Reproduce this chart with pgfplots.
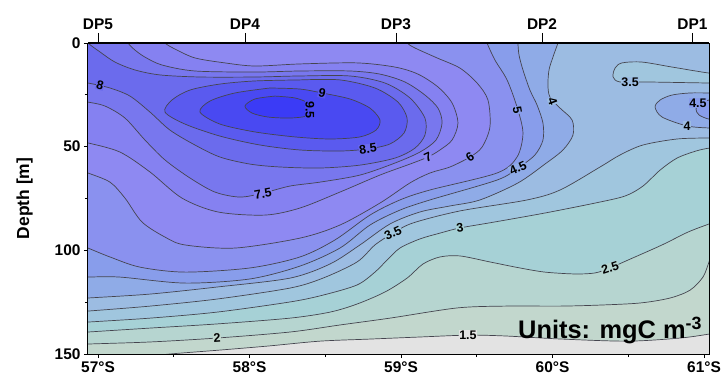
\documentclass[border=0pt]{standalone}
\usepackage{fontspec}
\setmainfont{Liberation Sans}
\usepackage{pgfplots}
\pgfplotsset{compat=1.18}
\definecolor{cg}{HTML}{E3E3E3}
\definecolor{c15}{HTML}{C2D7CD}
\definecolor{c2}{HTML}{B6D5D0}
\definecolor{c25}{HTML}{A6D1D6}
\definecolor{c3}{HTML}{A0C6DE}
\definecolor{c35}{HTML}{9CBCE2}
\definecolor{c4}{HTML}{8FABE7}
\definecolor{c45}{HTML}{889DEB}
\definecolor{c5}{HTML}{8A91EF}
\definecolor{c6}{HTML}{8E89F2}
\definecolor{c7}{HTML}{8581F1}
\definecolor{c75}{HTML}{7877EE}
\definecolor{c8}{HTML}{6B6BED}
\definecolor{c85}{HTML}{5A5AEF}
\definecolor{c9}{HTML}{4949F2}
\definecolor{c95}{HTML}{3B3BF6}
\definecolor{lc}{HTML}{45454F}
\pgfplotsset{cl/.style={smooth, tension=0.5, draw=lc, line width=0.7bp, fill=#1}}
\tikzset{lab/.style={font=\bfseries\fontsize{12.5}{12.5}\selectfont, inner sep=0.5bp, text=black}}
\begin{document}
\begin{tikzpicture}
\begin{axis}[name=main, scale only axis, width=621bp, height=311bp,
  xmin=56.934, xmax=61.033, ymin=0, ymax=150, y dir=reverse, enlargelimits=false,
  axis on top, clip bounding box=upper bound, no marks,
  axis background/.style={fill=cg},
  xtick={57,58,59,60,61}, xticklabels={57°S,58°S,59°S,60°S,61°S},
  ytick={0,50,100,150}, yticklabels={0,50,100,150},
  minor x tick num=1, minor y tick num=1,
  tick align=outside, xtick pos=left, ytick pos=left,
  major tick length=4bp, minor tick length=3bp,
  tick style={black, line width=0.8bp},
  axis line style={black, line width=1bp},
  tick label style={font=\bfseries\fontsize{15.5}{15.5}\selectfont},
  /pgf/number format/assume math mode=true,
  ylabel={Depth [m]},
  ylabel style={font=\bfseries\fontsize{17.5}{17.5}\selectfont, at={(axis description cs:-0.102,0.5)}, anchor=center},
]
% 1.5
\addplot[cl=c15] coordinates {(56.5,-25) (56.5,160) (56.9,156) (57.145,152.9) (57.310,151.4) (57.475,150.0) (57.805,148.1) (58.116,146.2) (58.465,143.8) (58.795,142.8) (59.125,141.8) (59.442,140.9) (59.686,141.3) (60.063,142.8) (60.498,143.8) (60.842,142.3) (61.033,140.4) (61.106,139.4) (61.238,138.9) (61.5,138) (61.5,-25) (56.5,-25)};
% 2
\addplot[cl=c2] coordinates {(56.5,-25) (56.6,146) (56.848,145.7) (56.934,145.2) (57.343,144.2) (57.785,142.3) (58.267,139.4) (58.597,136.0) (58.927,132.7) (59.369,127.8) (59.686,126.9) (60.050,126.9) (60.314,126.4) (60.578,125.4) (60.776,123.0) (60.908,119.2) (60.993,112.9) (61.033,105.6) (61.059,99.9) (61.092,94.1) (61.5,60) (61.5,-25) (56.5,-25)};
% 2.5
\addplot[cl=c25] coordinates {(56.5,-25) (56.6,140) (56.848,139.9) (56.934,139.4) (57.343,137.5) (57.785,135.5) (58.267,132.7) (58.531,129.8) (58.710,125.9) (58.894,120.1) (59.040,113.4) (59.145,106.6) (59.257,103.2) (59.389,102.7) (59.587,105.6) (59.785,108.5) (59.950,110.5) (60.149,111.4) (60.281,110.9) (60.380,108.5) (60.498,104.7) (60.723,97.4) (60.894,91.2) (61.033,87.3) (61.106,85.4) (61.3,80) (61.5,-25) (56.5,-25)};
% 3
\addplot[cl=c3] coordinates {(56.5,-25) (56.6,135.5) (56.848,135.1) (56.934,134.6) (57.343,132.7) (57.785,129.8) (58.267,124.9) (58.485,121.6) (58.710,116.7) (58.828,110.5) (58.908,104.7) (58.993,98.9) (59.125,94.5) (59.257,91.7) (59.389,89.2) (59.620,86.3) (59.950,82.0) (60.281,77.2) (60.479,73.8) (60.597,69.0) (60.710,61.3) (60.822,55.5) (60.947,52.1) (61.033,50.7) (61.106,50.2) (61.3,50) (61.5,-25) (56.5,-25)};
% 3.5
\addplot[cl=c35] coordinates {(56.5,-25) (56.6,130.3) (56.848,129.8) (56.934,129.3) (57.343,126.9) (57.785,123.5) (58.267,118.2) (58.485,113.4) (58.710,105.6) (58.828,97.4) (58.947,91.7) (59.079,86.8) (59.389,81.0) (59.832,75.7) (60.050,70.9) (60.314,59.8) (60.446,54.0) (60.597,49.2) (60.822,46.3) (61.033,45.8) (61.106,45.8) (61.3,45) (61.5,-25) (56.5,-25)};
% 3.5 loop (lower inside)
\addplot[cl=c3] coordinates {(61.3,14.5) (61.106,14.5) (61.033,14.5) (60.789,11.6) (60.591,9.2) (60.459,9.6) (60.413,12.1) (60.400,16.4) (60.446,18.8) (60.624,18.8) (61.033,19.3) (61.106,19.3) (61.3,19.3) (61.3,14.5)};
% 4 loop right
\addplot[cl=c4] coordinates {(61.3,24.1) (61.106,24.1) (61.033,24.1) (60.908,24.1) (60.789,25.1) (60.710,27.5) (60.677,30.9) (60.723,35.7) (60.888,40.0) (61.033,41.0) (61.106,41.0) (61.3,41) (61.3,24.1)};
% 4.5 loop right
\addplot[cl=c45] coordinates {(61.3,27.5) (61.106,27.5) (61.033,27.5) (60.980,28.9) (60.947,31.8) (60.967,34.7) (61.033,36.7) (61.106,36.7) (61.3,36.7) (61.3,27.5)};
% 4
\addplot[cl=c4] coordinates {(56.5,-25) (56.6,124) (56.848,123.5) (56.934,123.0) (57.343,121.1) (57.785,117.7) (58.267,113.4) (58.531,106.6) (58.729,97.4) (58.927,87.3) (59.125,81.5) (59.323,78.6) (59.521,75.7) (59.772,67.5) (59.950,58.4) (60.069,51.6) (60.135,44.4) (60.129,37.1) (60.050,31.4) (59.983,26.0) (59.970,20.3) (59.977,13.0) (60.003,6.8) (60.036,0) (60.056,-4.8) (60.069,-11.1) (56.5,-25)};
% 4.5
\addplot[cl=c45] coordinates {(56.5,-25) (56.6,113) (56.848,113.1) (56.934,112.9) (57.145,112.9) (57.574,115.8) (58.003,113.8) (58.333,107.6) (58.597,98.9) (58.795,87.8) (58.993,80.6) (59.191,75.7) (59.634,66.1) (59.772,60.3) (59.884,54.0) (59.937,46.8) (59.937,38.6) (59.898,29.9) (59.851,22.7) (59.805,13.0) (59.779,5.8) (59.772,0) (59.772,-4.8) (59.772,-11.1) (56.5,-25)};
% 5
\addplot[cl=c5] coordinates {(56.5,-25) (56.6,96) (56.868,97.0) (56.934,98.9) (57.079,103.2) (57.277,108.1) (57.574,110.5) (58.003,108.5) (58.333,103.2) (58.564,95.0) (58.795,83.0) (58.993,75.7) (59.191,70.9) (59.634,62.7) (59.766,55.0) (59.805,43.4) (59.766,30.9) (59.700,17.8) (59.620,8.2) (59.568,0) (59.548,-4.8) (59.521,-11.1) (56.5,-25)};
% 6
\addplot[cl=c6] coordinates {(56.5,-25) (56.6,60) (56.881,61.3) (56.934,62.7) (57.079,67.1) (57.178,74.8) (57.290,86.3) (57.442,93.6) (57.574,97.4) (57.904,98.9) (58.333,94.1) (58.597,87.8) (58.861,77.2) (59.059,67.5) (59.191,62.7) (59.323,59.8) (59.455,55.0) (59.535,50.2) (59.587,40.5) (59.574,27.5) (59.502,19.3) (59.389,12.1) (59.238,7.2) (59.092,2.4) (59.040,0) (59.007,-3.4) (58.960,-8.7) (56.5,-25)};
% 7
\addplot[cl=c7] coordinates {(56.5,-25) (56.6,47.5) (56.881,47.8) (56.934,48.2) (57.145,52.6) (57.343,62.2) (57.554,74.8) (57.792,81.5) (58.102,83.0) (58.333,79.6) (58.597,71.9) (58.861,63.7) (59.059,58.4) (59.178,55.0) (59.257,51.6) (59.337,46.8) (59.376,38.6) (59.337,28.9) (59.244,21.2) (59.112,15.0) (58.960,11.6) (58.710,9.6) (58.333,10.1) (58.036,11.1) (57.838,9.6) (57.640,7.2) (57.508,2.9) (57.442,0) (57.409,-3.9) (57.376,-8.7) (56.5,-25)};
% 7.5
\addplot[cl=c75] coordinates {(56.5,-25) (56.6,28) (56.881,27.9) (56.934,28.5) (57.046,30.4) (57.178,36.2) (57.310,46.8) (57.442,56.4) (57.607,65.1) (57.772,71.9) (57.937,74.3) (58.089,72.4) (58.267,69.0) (58.465,67.1) (58.729,63.7) (58.960,57.9) (59.125,52.6) (59.231,46.8) (59.271,38.6) (59.244,31.4) (59.158,25.1) (59.026,18.8) (58.861,15.0) (58.663,13.5) (58.333,13.5) (58.036,14.0) (57.640,13.5) (57.422,10.6) (57.310,6.8) (57.244,3.4) (57.198,0) (57.172,-3.9) (57.145,-8.7) (56.5,-25)};
% 8
\addplot[cl=c8] coordinates {(56.6,-12) (56.894,-3.9) (56.934,0) (57.013,4.3) (57.112,9.2) (57.244,13.0) (57.409,15.4) (57.673,16.4) (58.036,16.4) (58.333,15.9) (58.663,15.9) (58.894,19.3) (59.059,26.5) (59.158,36.2) (59.158,44.4) (59.092,50.7) (58.960,55.5) (58.729,58.9) (58.465,60.3) (58.201,59.8) (58.003,58.4) (57.805,55.0) (57.640,49.2) (57.475,42.0) (57.343,33.3) (57.211,25.6) (57.079,21.7) (56.934,19.3) (56.868,18.8) (56.782,18.8) (56.6,10) (56.6,-12)};
% 8.5
\addplot[cl=c85] coordinates {(58.333,17.8) (58.597,17.8) (58.828,21.7) (58.980,28.5) (59.040,36.2) (59.020,43.4) (58.927,48.7) (58.782,51.1) (58.597,52.1) (58.333,51.6) (58.069,49.2) (57.805,44.9) (57.574,39.1) (57.442,33.3) (57.488,27.5) (57.607,22.7) (57.805,19.8) (58.036,18.3) (58.333,17.8)};
% 9
\addplot[cl=c9] coordinates {(58.135,21.7) (58.333,22.2) (58.479,24.1) (58.663,27.0) (58.795,31.4) (58.861,37.1) (58.835,42.0) (58.729,45.3) (58.531,46.3) (58.300,45.3) (58.036,42.9) (57.805,39.1) (57.673,33.3) (57.739,28.0) (57.904,24.1) (58.135,21.7)};
% 9.5
\addplot[cl=c95] coordinates {(58.168,25.6) (58.300,26.5) (58.386,28.9) (58.419,32.3) (58.380,35.2) (58.267,36.2) (58.122,35.7) (58.017,33.8) (57.970,30.4) (58.036,27.0) (58.168,25.6)};
% contour labels
\node[lab, fill=c8, rotate=-15] at (axis cs:57.013,20.3) {8};
\node[lab, fill=c85, rotate=-12] at (axis cs:58.479,24.1) {9};
\node[lab, fill=c9, rotate=-90] at (axis cs:58.399,32.3) {9.5};
\node[lab, fill=c8, rotate=8] at (axis cs:58.782,51.1) {8.5};
\node[lab, fill=c7, rotate=10] at (axis cs:58.089,72.8) {7.5};
\node[lab, fill=c6, rotate=25] at (axis cs:59.178,55.0) {7};
\node[lab, fill=c5, rotate=35] at (axis cs:59.455,55.0) {6};
\node[lab, fill=c45, rotate=-80] at (axis cs:59.768,32.3) {5};
\node[lab, fill=c35, rotate=-70] at (axis cs:60.000,28.0) {4};
\node[lab, fill=c4, rotate=25] at (axis cs:59.772,60.3) {4.5};
\node[lab, fill=c3, rotate=25] at (axis cs:58.947,91.7) {3.5};
\node[lab, fill=c25, rotate=8] at (axis cs:59.389,89.2) {3};
\node[lab, fill=c2, rotate=18] at (axis cs:60.380,108.5) {2.5};
\node[lab, fill=c15, rotate=4] at (axis cs:57.785,142.3) {2};
\node[lab, fill=cg] at (axis cs:59.442,140.9) {1.5};
\node[lab, fill=c35] at (axis cs:60.512,18.8) {3.5};
\node[lab, fill=c45] at (axis cs:60.960,28.9) {4.5};
\node[lab, fill=c35] at (axis cs:60.888,40.0) {4};
\node[anchor=base west, font=\bfseries\fontsize{25.5}{25.5}\selectfont, inner sep=0pt] at (axis cs:59.772,142.3) {Units: mgC m\textsuperscript{-3}};
\end{axis}
\begin{axis}[scale only axis, width=621bp, height=311bp, at={(main.south west)}, anchor=south west,
  xmin=56.934, xmax=61.033, ymin=0, ymax=150,
  axis x line*=top, axis y line=none,
  xtick={57.0,57.970,58.967,59.931,60.924}, xticklabels={DP5,DP4,DP3,DP2,DP1},
  tick align=outside, major tick length=10bp,
  tick style={black, line width=0.8bp},
  axis line style={black, line width=1bp},
  tick label style={font=\bfseries\fontsize{15.5}{15.5}\selectfont},
]
\end{axis}
\path ([xshift=-88bp,yshift=-26bp]main.south west) rectangle ([xshift=16bp,yshift=43bp]main.north east);
\end{tikzpicture}
\end{document}
